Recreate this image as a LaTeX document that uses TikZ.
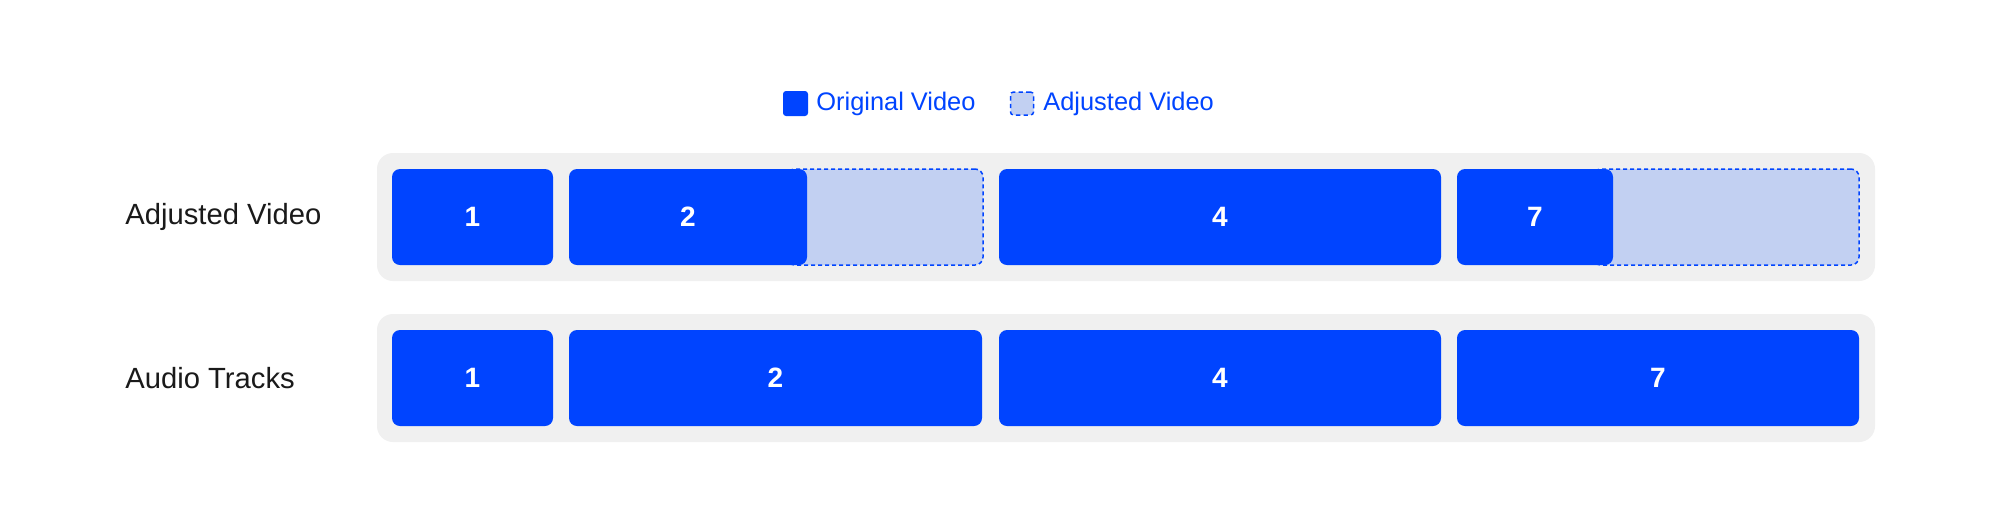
\documentclass[tikz,border=0pt]{standalone}
\usepackage{fontspec}
\setmainfont{Liberation Sans}
\definecolor{vblue}{HTML}{0044FF}
\definecolor{vlight}{HTML}{C2D0F2}
\definecolor{cgray}{HTML}{F0F0F0}
\definecolor{ltext}{HTML}{1A1A1A}
\begin{document}
\begin{tikzpicture}[x=0.5pt,y=-0.5pt,
  container/.style={fill=cgray, rounded corners=8pt, inner sep=0pt, outer sep=0pt, minimum height=64pt},
  seg/.style={fill=vblue, rounded corners=4pt, inner sep=0pt, outer sep=0pt, minimum height=48pt, text=white, font=\fontsize{14}{16}\selectfont\bfseries},
  adj/.style={fill=vlight, draw=vblue, dash pattern=on 2pt off 1.5pt, line width=0.75pt, rounded corners=4pt, inner sep=0pt, outer sep=0pt, minimum height=48pt},
  rowlabel/.style={anchor=west, inner sep=0pt, text=ltext, font=\fontsize{14.6}{17}\selectfont},
  legtext/.style={anchor=west, inner sep=0pt, text=vblue, font=\fontsize{12.7}{15}\selectfont},
]
\useasboundingbox (0,0) rectangle (2000,527);
\fill[white] (0,0) rectangle (2000,527);

% legend
\node[fill=vblue, rounded corners=1.5pt, minimum size=12.5pt, inner sep=0pt] (legorig) at (795.5,103.5) {};
\node[legtext] (legorigt) at (816,103.5) {Original Video};
\node[fill=vlight, draw=vblue, dash pattern=on 2.2pt off 1.6pt, line width=0.75pt, rounded corners=1.5pt, minimum size=11.5pt, inner sep=0pt] (legadj) at (1022,103.5) {};
\node[legtext] (legadjt) at (1043,103.5) {Adjusted Video};

% row labels
\node[rowlabel] (lab1) at (125,217) {Adjusted Video};
\node[rowlabel] (lab2) at (125,378) {Audio Tracks};

% containers
\node[container, minimum width=749pt] (c1) at (1126,217) {};
\node[container, minimum width=749pt] (c2) at (1126,378) {};

% row 1
\node[seg, minimum width=80.5pt] (v1) at (472.5,217) {1};
\node[adj, minimum width=98pt] (v2a) at (885,217) {};
\node[seg, minimum width=119pt] (v2) at (688,217) {2};
\node[seg, minimum width=221pt] (v4) at (1220,217) {4};
\node[adj, minimum width=133pt] (v7a) at (1726,217) {};
\node[seg, minimum width=78pt] (v7) at (1535,217) {7};

% row 2
\node[seg, minimum width=80.5pt] (a1) at (472.5,378) {1};
\node[seg, minimum width=206.5pt] (a2) at (775.5,378) {2};
\node[seg, minimum width=221pt] (a4) at (1220,378) {4};
\node[seg, minimum width=201pt] (a7) at (1658,378) {7};
\end{tikzpicture}
\end{document}
